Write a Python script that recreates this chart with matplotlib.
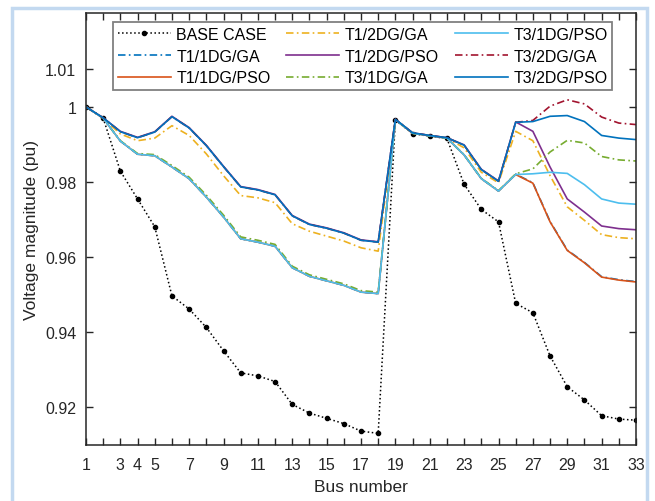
import numpy as np
import matplotlib
matplotlib.use('Agg')
from matplotlib import pyplot as plt
from matplotlib.patches import Rectangle

plt.rcParams['font.family'] = ['Liberation Sans', 'DejaVu Sans']

bus = np.arange(1, 34)

base_case = [1.0, 0.9970, 0.9829, 0.9755, 0.9681, 0.9497, 0.9462, 0.9413, 0.9351, 0.9292,
             0.9284, 0.9269, 0.9208, 0.9185, 0.9171, 0.9157, 0.9137, 0.9131, 0.9965, 0.9929,
             0.9922, 0.9916, 0.9794, 0.9727, 0.9694, 0.9477, 0.9452, 0.9337, 0.9255, 0.9220,
             0.9178, 0.9169, 0.9166]
t1_1dg_ga = [1.0, 0.9970, 0.9909, 0.9874, 0.9870, 0.9840, 0.9809, 0.9760, 0.9707, 0.9649,
             0.9640, 0.9629, 0.9572, 0.9549, 0.9537, 0.9525, 0.9507, 0.9503, 0.9966, 0.9930,
             0.9923, 0.9917, 0.9872, 0.9809, 0.9776, 0.9821, 0.9798, 0.9695, 0.9619, 0.9586,
             0.9548, 0.9540, 0.9535]
t1_1dg_pso = [1.0, 0.9970, 0.9909, 0.9874, 0.9870, 0.9840, 0.9809, 0.9760, 0.9707, 0.9649,
              0.9640, 0.9629, 0.9572, 0.9549, 0.9537, 0.9525, 0.9507, 0.9503, 0.9966, 0.9930,
              0.9923, 0.9917, 0.9872, 0.9809, 0.9776, 0.9820, 0.9797, 0.9694, 0.9618, 0.9585,
              0.9547, 0.9539, 0.9534]
t1_2dg_ga = [1.0, 0.9970, 0.9928, 0.9910, 0.9917, 0.9950, 0.9924, 0.9875, 0.9817, 0.9764,
             0.9758, 0.9745, 0.9689, 0.9669, 0.9656, 0.9643, 0.9625, 0.9616, 0.9966, 0.9930,
             0.9923, 0.9917, 0.9891, 0.9826, 0.9798, 0.9935, 0.9910, 0.9817, 0.9734, 0.9698,
             0.9660, 0.9652, 0.9649]
t1_2dg_pso = [1.0, 0.9971, 0.9935, 0.9919, 0.9934, 0.9975, 0.9945, 0.9898, 0.9842, 0.9788,
              0.9780, 0.9767, 0.9711, 0.9688, 0.9678, 0.9665, 0.9646, 0.9641, 0.9967, 0.9931,
              0.9924, 0.9918, 0.9899, 0.9834, 0.9803, 0.9960, 0.9935, 0.9840, 0.9755, 0.9720,
              0.9683, 0.9676, 0.9673]
t3_1dg_ga = [1.0, 0.9970, 0.9910, 0.9876, 0.9873, 0.9844, 0.9813, 0.9765, 0.9712, 0.9654,
             0.9645, 0.9634, 0.9576, 0.9553, 0.9541, 0.9529, 0.9511, 0.9507, 0.9966, 0.9930,
             0.9923, 0.9917, 0.9873, 0.9810, 0.9777, 0.9822, 0.9835, 0.9880, 0.9911, 0.9904,
             0.9868, 0.9859, 0.9856]
t3_1dg_pso = [1.0, 0.9970, 0.9909, 0.9874, 0.9870, 0.9840, 0.9809, 0.9760, 0.9707, 0.9649,
              0.9640, 0.9629, 0.9572, 0.9549, 0.9537, 0.9525, 0.9507, 0.9503, 0.9966, 0.9930,
              0.9923, 0.9917, 0.9872, 0.9809, 0.9776, 0.9820, 0.9822, 0.9826, 0.9823, 0.9793,
              0.9755, 0.9744, 0.9741]
t3_2dg_ga = [1.0, 0.9971, 0.9934, 0.9918, 0.9933, 0.9974, 0.9944, 0.9897, 0.9841, 0.9787,
             0.9779, 0.9766, 0.9710, 0.9687, 0.9677, 0.9664, 0.9645, 0.9640, 0.9967, 0.9931,
             0.9924, 0.9918, 0.9898, 0.9833, 0.9802, 0.9959, 0.9964, 1.0002, 1.0019, 1.0008,
             0.9973, 0.9957, 0.9953]
t3_2dg_pso = [1.0, 0.9971, 0.9934, 0.9918, 0.9933, 0.9974, 0.9944, 0.9897, 0.9841, 0.9787,
              0.9779, 0.9766, 0.9710, 0.9687, 0.9677, 0.9664, 0.9645, 0.9640, 0.9967, 0.9931,
              0.9924, 0.9918, 0.9898, 0.9833, 0.9802, 0.9959, 0.9961, 0.9975, 0.9977, 0.9961,
              0.9924, 0.9917, 0.9913]

x_tick_labels = ['1', '', '3', '4', '5', '', '7', '', '9', '', '11', '', '13', '', '15', '',
                 '17', '', '19', '', '21', '', '23', '', '25', '', '27', '', '29', '', '31', '', '33']
y_ticks = [0.92, 0.94, 0.96, 0.98, 1.0, 1.01]
y_tick_labels = ['0.92', '0.94', '0.96', '0.98', '1', '1.01']

# matlab default colour order
c_blue = '#0072BD'
c_red = '#D95319'
c_yellow = '#EDB120'
c_purple = '#7E2F8E'
c_green = '#77AC30'
c_cyan = '#4DBEEE'
c_maroon = '#A2142F'

dashdot = (0, (4.5, 2.0, 1.0, 2.0))

fig = plt.figure(figsize=(6.55, 5.02), dpi=100)
fig.patches.append(Rectangle((12 / 655, -0.05), 635 / 655, 1.05 - 9 / 502,
                             transform=fig.transFigure, fill=False,
                             edgecolor='#c3d9f0', linewidth=2.5, zorder=0))
ax = fig.add_axes([86 / 655, 56 / 502, 550 / 655, 432 / 502])

lw = 1.2
ax.plot(bus, base_case, ':', color='black', marker='.', markersize=6, linewidth=1.1, label='BASE CASE')
ax.plot(bus, t1_1dg_ga, linestyle=dashdot, color=c_blue, linewidth=lw, label='T1/1DG/GA')
ax.plot(bus, t1_1dg_pso, '-', color=c_red, linewidth=lw, label='T1/1DG/PSO')
ax.plot(bus, t1_2dg_ga, linestyle=dashdot, color=c_yellow, linewidth=lw, label='T1/2DG/GA')
ax.plot(bus, t1_2dg_pso, '-', color=c_purple, linewidth=lw, label='T1/2DG/PSO')
ax.plot(bus, t3_1dg_ga, linestyle=dashdot, color=c_green, linewidth=lw, label='T3/1DG/GA')
ax.plot(bus, t3_1dg_pso, '-', color=c_cyan, linewidth=lw, label='T3/1DG/PSO')
ax.plot(bus, t3_2dg_ga, linestyle=dashdot, color=c_maroon, linewidth=lw, label='T3/2DG/GA')
ax.plot(bus, t3_2dg_pso, '-', color=c_blue, linewidth=lw, label='T3/2DG/PSO')

ax.set_xlim(1, 33)
ax.set_ylim(0.91, 1.025)
ax.set_xticks(bus)
ax.set_xticklabels(x_tick_labels)
ax.set_yticks(y_ticks)
ax.set_yticklabels(y_tick_labels)
ax.tick_params(direction='in', length=5, width=1, top=True, right=True,
               labelsize=11.5, colors='#262626', pad=7)
ax.tick_params(axis='x', pad=9)
for s in ax.spines.values():
    s.set_linewidth(1.1)
    s.set_color('#262626')

ax.set_xlabel('Bus number', fontsize=12.5, color='#262626', labelpad=5)
ax.set_ylabel('Voltage magnitude (pu)', fontsize=12.5, color='#262626', labelpad=4)

leg = ax.legend(ncol=3, loc='upper center', bbox_to_anchor=(0.503, 0.997),
                fontsize=11.5, handlelength=3.3, columnspacing=1.0, handletextpad=0.35,
                labelspacing=0.42, borderpad=0.3, numpoints=1, fancybox=False, framealpha=1)
leg.get_frame().set_edgecolor('#808080')
leg.get_frame().set_linewidth(1.3)

fig.savefig('out.png', dpi=100)
